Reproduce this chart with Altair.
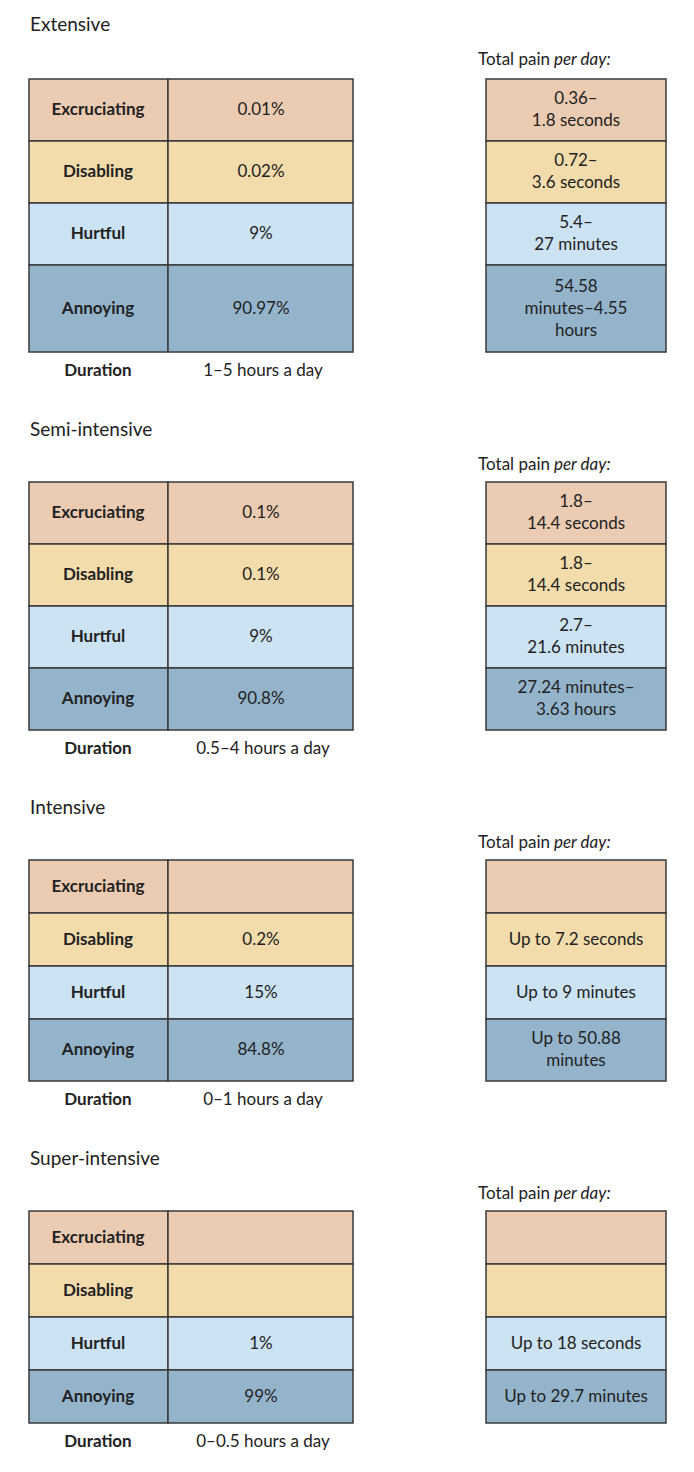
import altair as alt
import pandas as pd

sections = ["Extensive", "Semi-intensive", "Intensive", "Super-intensive"]
categories = ["Excruciating", "Disabling", "Hurtful", "Annoying"]
colors = ["#ebcbb1", "#f3dcab", "#cce3f4", "#94b4cc"]
shares = [
    ["0.01%", "0.02%", "9%", "90.97%"],
    ["0.1%", "0.1%", "9%", "90.8%"],
    ["", "0.2%", "15%", "84.8%"],
    ["", "", "1%", "99%"],
]
totals = [
    ["0.36–\n1.8 seconds", "0.72–\n3.6 seconds", "5.4–\n27 minutes", "54.58\nminutes–4.55\nhours"],
    ["1.8–\n14.4 seconds", "1.8–\n14.4 seconds", "2.7–\n21.6 minutes", "27.24 minutes–\n3.63 hours"],
    ["", "Up to 7.2 seconds", "Up to 9 minutes", "Up to 50.88\nminutes"],
    ["", "", "Up to 18 seconds", "Up to 29.7 minutes"],
]
durations = ["1–5 hours a day", "0.5–4 hours a day", "0–1 hours a day", "0–0.5 hours a day"]

# layout (picture pixels)
FONT = "Lato"
rects, texts = [], []
y = 25
for s, name in enumerate(sections):
    texts.append(dict(x=30, y=y, t=name, align="left", size=19, weight="normal", style="normal"))
    texts.append(dict(x=550, y=y + 35, t="Total pain", align="right", size=17, weight="normal", style="normal"))
    texts.append(dict(x=554, y=y + 35, t="per day:", align="left", size=17, weight="normal", style="italic"))
    top = y + 52 if s else y + 54
    for r, cat in enumerate(categories):
        n = max(len(totals[s][r].split("\n")), 1)
        h = 53 if n == 1 else 12 + 25 * n
        bot = top + h
        mid = (top + bot) / 2
        for x0, x1 in [(29, 168), (168, 353), (486, 666)]:
            rects.append(dict(x=x0, x2=x1, y=top, y2=bot, cat=cat))
        texts.append(dict(x=98, y=mid, t=cat, align="center", size=17, weight="bold", style="normal"))
        texts.append(dict(x=261, y=mid, t=shares[s][r], align="center", size=17, weight="normal", style="normal"))
        texts.append(dict(x=576, y=mid - 11 * (n - 1), t=totals[s][r], align="center", size=17, weight="normal", style="normal"))
        top = bot
    texts.append(dict(x=98, y=top + 19, t="Duration", align="center", size=17, weight="bold", style="normal"))
    texts.append(dict(x=263, y=top + 19, t=durations[s], align="center", size=17, weight="normal", style="normal"))
    y = top + 78

rdf = pd.DataFrame(rects)
tdf = pd.DataFrame(texts)

xs = alt.Scale(domain=[8, 686], nice=False, zero=False)
ys = alt.Scale(domain=[1464, 8], nice=False, zero=False)

cells = alt.Chart(rdf).mark_rect(stroke="#3a3a3a", strokeWidth=1.5).encode(
    x=alt.X("x:Q", scale=xs, axis=None),
    x2="x2:Q",
    y=alt.Y("y:Q", scale=ys, axis=None),
    y2="y2:Q",
    fill=alt.Fill("cat:N", scale=alt.Scale(domain=categories, range=colors), legend=None),
)

layers = [cells]
for (align, size, weight, style), g in tdf.groupby(["align", "size", "weight", "style"]):
    layers.append(
        alt.Chart(g).mark_text(
            align=align, baseline="middle", fontSize=size, fontWeight=weight,
            fontStyle=style, font=FONT, color="#222", lineBreak="\n", lineHeight=22,
        ).encode(
            x=alt.X("x:Q", scale=xs, axis=None),
            y=alt.Y("y:Q", scale=ys, axis=None),
            text="t:N",
        )
    )

chart = alt.layer(*layers).properties(
    width=678, height=1456, autosize="none", padding=0
).configure_view(stroke=None)

chart.save("out.html", embed_options={"renderer": "svg", "actions": False})
